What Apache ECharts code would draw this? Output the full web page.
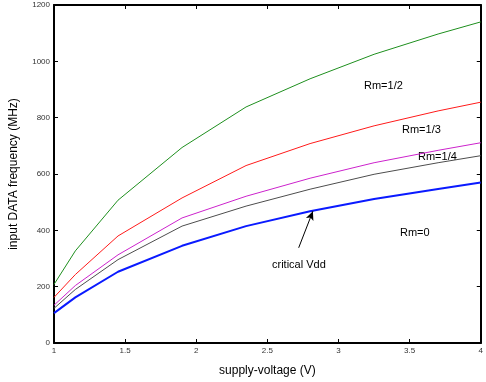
<!DOCTYPE html>
<html><head><meta charset="utf-8">
<script src="https://cdn.jsdelivr.net/npm/echarts@6/dist/echarts.min.js"></script>
<style>html,body{margin:0;padding:0;background:#fff}#c{width:486px;height:382px}</style>
</head><body><div id="c"></div>
<script>
var voltages = [1, 1.15, 1.45, 1.9, 2.35, 2.8, 3.25, 3.7, 4];
var rmHalf   = [208, 327, 507, 694, 838, 938, 1025, 1097, 1140];
var rmThird  = [162, 243, 380, 515, 630, 708, 771, 824, 855];
var rmQuarter= [134, 204, 313, 444, 521, 585, 640, 684, 711];
var rmGray   = [123, 190, 296, 415, 486, 546, 599, 640, 665];
var rmZero   = [106, 162, 253, 345, 415, 468, 511, 547, 570];
var xTicks = [1, 1.5, 2, 2.5, 3, 3.5, 4];
var yTicks = [0, 200, 400, 600, 800, 1000, 1200];
var arrowFrom = [2.72, 338], arrowTo = [2.82, 468];

function pairs(v){ return voltages.map(function(x,i){return [x, v[i]];}); }
var font = 'Liberation Sans, Arial, sans-serif';
var chart = echarts.init(document.getElementById('c'), null, {renderer:'canvas'});
var axisLine = {show:true, onZero:false, lineStyle:{color:'#000', width:2}};
var tick = {show:true, inside:true, length:4, lineStyle:{color:'#000', width:1}};
function mk(name, data, color, w){
  return {name:name, type:'line', data:pairs(data), showSymbol:false, smooth:false,
    lineStyle:{color:color, width:w}, itemStyle:{color:color}, silent:true, animation:false};
}
var series = [
  mk('Rm=1/2', rmHalf, '#1e8f1e', 1),
  mk('Rm=1/3', rmThird, '#ff1a1a', 1),
  mk('Rm=1/4', rmQuarter, '#cc22cc', 1),
  mk('gray', rmGray, '#4d4d4d', 1),
  mk('Rm=0', rmZero, '#0a1aff', 2)
];
series[4].markLine = {silent:true, symbol:['none','arrow'], symbolSize:[6,9], animation:false,
  lineStyle:{color:'#000', width:1, type:'solid'}, label:{show:false},
  data:[[{coord:arrowFrom},{coord:arrowTo}]]};
function fmt(v){ return String(v); }
chart.setOption({
  animation:false,
  grid:{left:53, right:1, top:5, bottom:36, containLabel:false},
  xAxis:[{type:'value', min:1, max:4, interval:0.5, position:'bottom',
      name:'supply-voltage (V)', nameLocation:'middle', nameGap:22,
      nameTextStyle:{fontFamily:font, fontSize:12, color:'#000'},
      axisLine:axisLine, axisTick:tick, splitLine:{show:false},
      axisLabel:{fontFamily:font, fontSize:8, color:'#333', margin:4, formatter:fmt}},
    {type:'value', min:1, max:4, interval:0.5, position:'top',
      axisLine:axisLine, axisTick:tick, splitLine:{show:false}, axisLabel:{show:false}}],
  yAxis:[{type:'value', min:0, max:1200, interval:200, position:'left',
      name:'input DATA frequency (MHz)', nameLocation:'middle', nameGap:34, nameRotate:90,
      nameTextStyle:{fontFamily:font, fontSize:12, color:'#000'},
      axisLine:axisLine, axisTick:tick, splitLine:{show:false},
      axisLabel:{fontFamily:font, fontSize:8, color:'#333', margin:4, formatter:fmt}},
    {type:'value', min:0, max:1200, interval:200, position:'right',
      axisLine:axisLine, axisTick:tick, splitLine:{show:false}, axisLabel:{show:false}}],
  series:series,
  graphic:[
    {type:'text', left:364, top:80, style:{text:'Rm=1/2', font:'11px '+font, fill:'#000'}},
    {type:'text', left:402, top:124, style:{text:'Rm=1/3', font:'11px '+font, fill:'#000'}},
    {type:'text', left:418, top:151, style:{text:'Rm=1/4', font:'11px '+font, fill:'#000'}},
    {type:'text', left:400, top:227, style:{text:'Rm=0', font:'11px '+font, fill:'#000'}},
    {type:'text', left:272, top:259, style:{text:'critical Vdd', font:'11px '+font, fill:'#000'}}
  ]
});
</script></body></html>
